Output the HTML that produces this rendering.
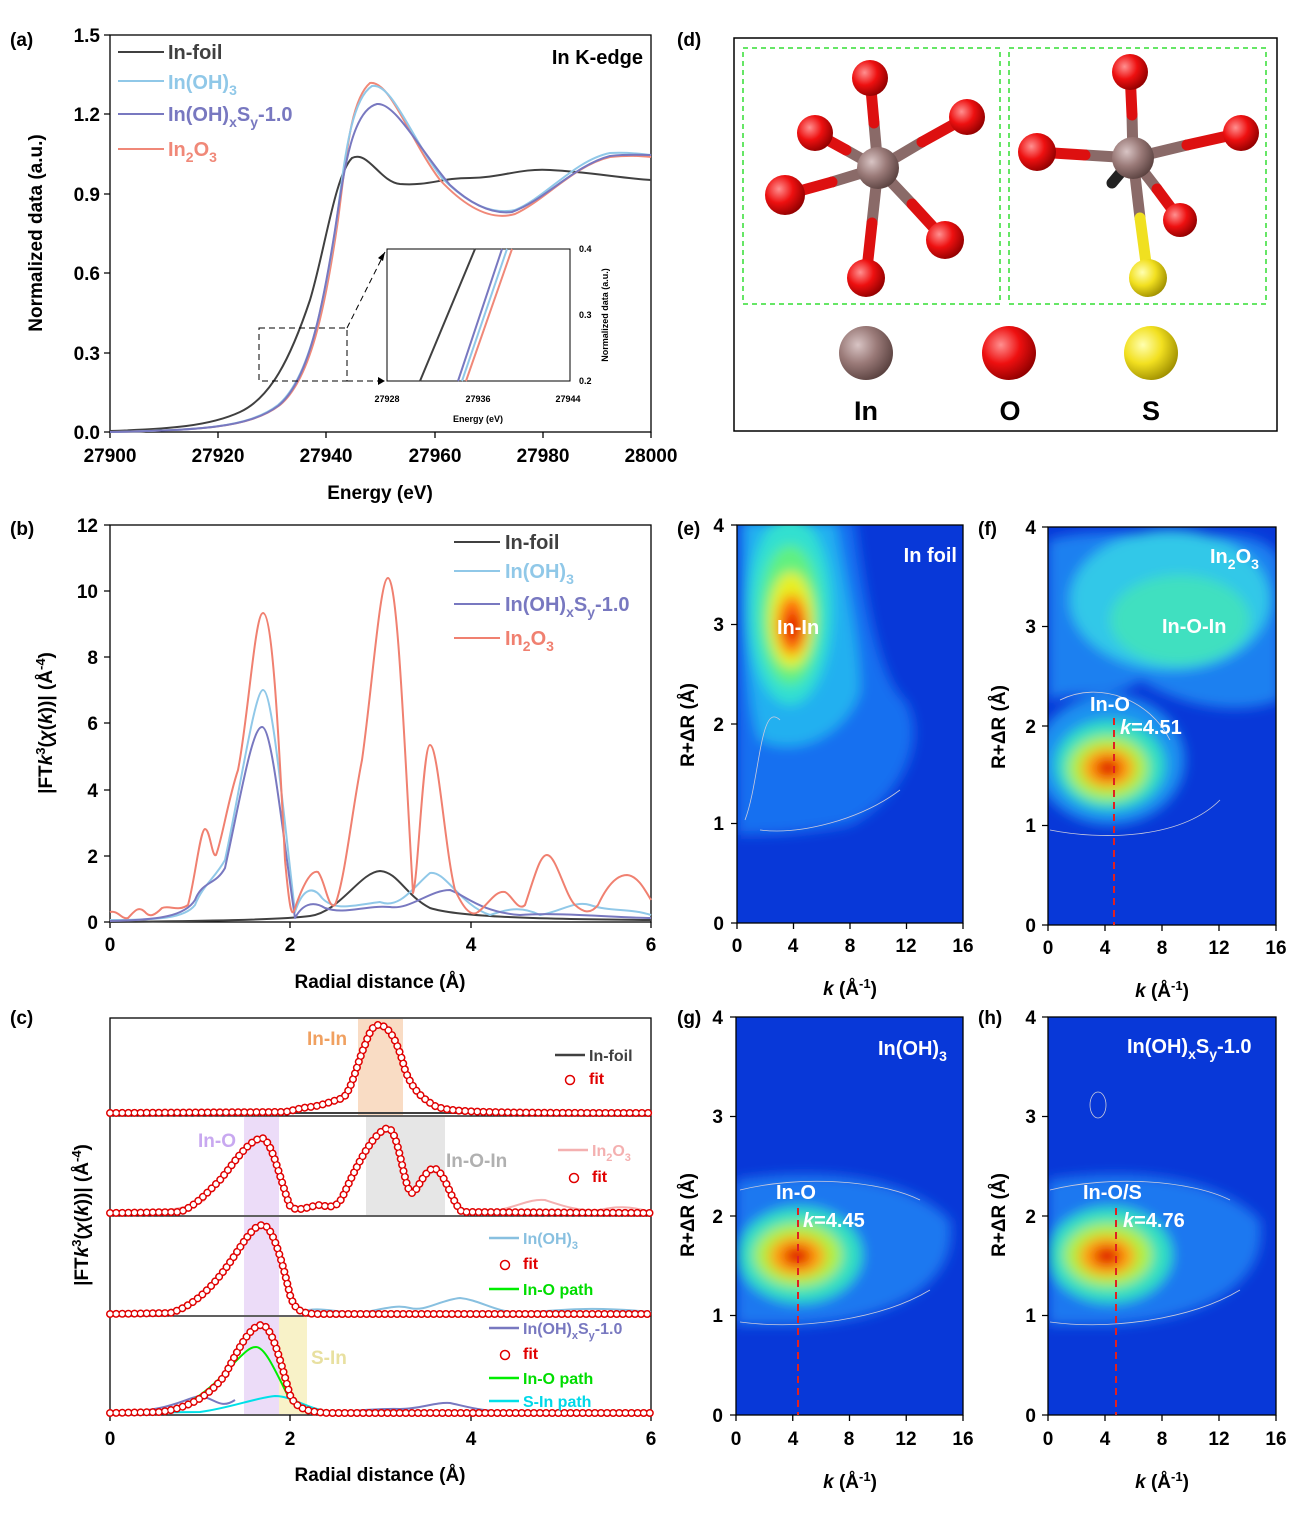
<!DOCTYPE html>
<html><head><meta charset="utf-8"><style>
body{margin:0;background:#fff}
svg{display:block;font-family:"Liberation Sans",Arial,sans-serif}
.t{font-size:19px;fill:#000;font-weight:bold}
.b{font-weight:bold}
</style></head><body>
<svg width="1304" height="1516" viewBox="0 0 1304 1516" xmlns="http://www.w3.org/2000/svg">
<defs>
<radialGradient id="gIn" cx="35%" cy="35%" r="70%"><stop offset="0" stop-color="#d8c4c4"/><stop offset=".5" stop-color="#9a7a78"/><stop offset="1" stop-color="#5a4240"/></radialGradient>
<radialGradient id="gO" cx="35%" cy="35%" r="70%"><stop offset="0" stop-color="#ff9090"/><stop offset=".5" stop-color="#ee1010"/><stop offset="1" stop-color="#900000"/></radialGradient>
<radialGradient id="gS" cx="35%" cy="35%" r="70%"><stop offset="0" stop-color="#ffffb0"/><stop offset=".5" stop-color="#f2e020"/><stop offset="1" stop-color="#a09000"/></radialGradient>
<filter id="bl" x="-50%" y="-50%" width="200%" height="200%"><feGaussianBlur stdDeviation="6"/></filter>
<clipPath id="ce"><rect x="737" y="525" width="226" height="398"/></clipPath>
<clipPath id="cf"><rect x="1048" y="527" width="228" height="398"/></clipPath>
<clipPath id="cg"><rect x="736" y="1017" width="227" height="398"/></clipPath>
<clipPath id="ch"><rect x="1048" y="1017" width="228" height="398"/></clipPath>
</defs>

<g class="t" font-size="19">
<text x="10" y="46">(a)</text><text x="10" y="535">(b)</text><text x="10" y="1024">(c)</text>
<text x="677" y="46">(d)</text><text x="677" y="535">(e)</text><text x="978" y="535">(f)</text>
<text x="677" y="1024">(g)</text><text x="978" y="1024">(h)</text>
</g>

<!-- ===== (a) ===== -->
<rect x="110" y="35" width="541" height="397" fill="none" stroke="#000" stroke-width="1.3"/>
<g stroke="#000" stroke-width="1.3">
<path d="M110 432v6M218 432v6M326 432v6M435 432v6M543 432v6M651 432v6"/>
<path d="M110 432h-6M110 353h-6M110 273h-6M110 194h-6M110 114h-6M110 35h-6"/>
</g>
<g class="t" text-anchor="middle"><text x="110" y="462">27900</text><text x="218" y="462">27920</text><text x="326" y="462">27940</text><text x="435" y="462">27960</text><text x="543" y="462">27980</text><text x="651" y="462">28000</text></g>
<g class="t" text-anchor="end"><text x="100" y="439">0.0</text><text x="100" y="360">0.3</text><text x="100" y="280">0.6</text><text x="100" y="201">0.9</text><text x="100" y="121">1.2</text><text x="100" y="42">1.5</text></g>
<text class="t" x="380" y="499" text-anchor="middle" font-size="20">Energy (eV)</text>
<text class="t" transform="translate(42,233) rotate(-90)" text-anchor="middle" font-size="20">Normalized data (a.u.)</text>
<g fill="none" stroke-width="2">
<path stroke="#404040" d="M110 431 C170 429 210 426 240 412 C270 398 290 360 310 300 C325 250 335 175 352 158 C368 150 380 182 400 184 C430 186 440 178 470 178 C500 178 520 168 550 170 C590 172 620 178 651 180"/>
<path stroke="#f08878" d="M110 432 C200 430 250 428 280 405 C310 380 325 310 338 220 C346 160 350 100 370 83 C390 80 410 140 440 180 C470 212 495 220 515 214 C545 200 575 165 610 157 C630 155 640 156 651 157"/>
<path stroke="#90c8e8" d="M110 432 C200 430 248 428 278 405 C308 380 323 310 336 225 C344 165 350 100 372 86 C392 82 412 140 442 178 C472 208 495 214 515 210 C545 198 575 160 610 153 C630 152 640 154 651 155"/>
<path stroke="#7878c0" d="M110 432 C200 430 248 428 278 406 C308 382 322 312 335 230 C344 170 352 110 377 104 C395 102 420 150 450 185 C475 208 495 214 512 212 C545 200 575 165 610 156 C630 154 640 155 651 155"/>
</g>
<g stroke-width="2"><path stroke="#404040" d="M118 52h46"/><path stroke="#90c8e8" d="M118 81h46"/><path stroke="#7878c0" d="M118 114h46"/><path stroke="#f08878" d="M118 149h46"/></g>
<g font-size="20" font-weight="bold"><text x="168" y="59" fill="#404040">In-foil</text><text x="168" y="89" fill="#90c8e8">In(OH)<tspan font-size="14" dy="6">3</tspan></text>
<text x="168" y="121" fill="#7878c0">In(OH)<tspan font-size="14" dy="6">x</tspan><tspan dy="-6">S</tspan><tspan font-size="14" dy="6">y</tspan><tspan dy="-6">-1.0</tspan></text>
<text x="168" y="156" fill="#f08878">In<tspan font-size="14" dy="6">2</tspan><tspan dy="-6">O</tspan><tspan font-size="14" dy="6">3</tspan></text>
<text x="643" y="64" text-anchor="end" fill="#000">In K-edge</text></g>
<rect x="259" y="328" width="88" height="53" fill="none" stroke="#000" stroke-dasharray="6,4"/>
<path d="M347 328 L385 252 M347 381 L385 381" stroke="#000" stroke-dasharray="6,4" fill="none"/>
<path d="M378 258l7-6-2 9zM378 377l7 4-7 4z" fill="#000"/>
<rect x="387" y="249" width="183" height="132" fill="#fff" stroke="#000"/>
<g fill="none" stroke-width="2">
<path stroke="#404040" d="M420 381 L475 249"/>
<path stroke="#7878c0" d="M458 381 L502 249"/>
<path stroke="#90c8e8" d="M462 381 L507 249"/>
<path stroke="#f08878" d="M466 381 L512 249"/>
</g>
<g font-size="9" font-weight="bold" fill="#000"><text x="387" y="402" text-anchor="middle">27928</text><text x="478" y="402" text-anchor="middle">27936</text><text x="568" y="402" text-anchor="middle">27944</text>
<text x="579" y="252">0.4</text><text x="579" y="318">0.3</text><text x="579" y="384">0.2</text>
<text x="478" y="422" text-anchor="middle">Energy (eV)</text>
<text transform="translate(608,315) rotate(-90)" text-anchor="middle">Normalized data (a.u.)</text></g>

<!-- ===== (b) ===== -->
<rect x="110" y="525" width="541" height="397" fill="none" stroke="#000" stroke-width="1.3"/>
<g stroke="#000" stroke-width="1.3"><path d="M110 922v6M290 922v6M471 922v6M651 922v6M110 922h-6M110 856h-6M110 790h-6M110 723h-6M110 657h-6M110 591h-6M110 525h-6"/></g>
<g class="t" text-anchor="middle"><text x="110" y="951">0</text><text x="290" y="951">2</text><text x="471" y="951">4</text><text x="651" y="951">6</text></g>
<g class="t" text-anchor="end"><text x="98" y="929">0</text><text x="98" y="863">2</text><text x="98" y="797">4</text><text x="98" y="730">6</text><text x="98" y="664">8</text><text x="98" y="598">10</text><text x="98" y="532">12</text></g>
<text class="t" x="380" y="988" text-anchor="middle" font-size="20">Radial distance (Å)</text>
<text class="t" transform="translate(52,723) rotate(-90)" text-anchor="middle" font-size="20">|FT<tspan font-style="italic">k</tspan><tspan font-size="13" dy="-7">3</tspan><tspan dy="7">(</tspan><tspan font-style="italic">χ</tspan>(<tspan font-style="italic">k</tspan>))| (Å<tspan font-size="13" dy="-7">-4</tspan><tspan dy="7">)</tspan></text>
<g fill="none" stroke-width="2" stroke-linejoin="round">
<path stroke="#404040" d="M110 922 C200 921 280 920 310 916 C340 912 360 872 380 871 C398 872 405 895 430 908 C455 916 520 919 651 920"/>
<path stroke="#90c8e8" d="M110 920 C160 920 185 918 195 905 C203 885 215 878 225 860 C240 790 255 690 263 690 C272 690 282 800 295 912 C302 890 312 884 322 898 C335 912 355 905 380 902 C400 910 415 885 430 873 C445 870 460 905 490 915 C505 910 520 905 540 915 C560 912 575 900 590 905 C610 912 630 908 651 915"/>
<path stroke="#7878c0" d="M110 921 C160 920 185 916 195 900 C203 880 215 886 225 868 C240 800 252 727 262 727 C272 727 282 830 295 918 C302 905 312 900 325 908 C345 915 365 905 390 907 C410 910 430 890 450 890 C465 895 480 912 520 915 C560 912 620 918 651 918"/>
<path stroke="#f08070" d="M110 912 C118 910 122 920 128 918 C134 912 138 905 145 912 C150 918 155 915 162 908 C170 905 178 912 188 905 C195 880 200 830 205 829 C210 829 212 858 216 855 C222 840 228 800 238 770 C248 720 255 613 263 613 C272 613 278 720 285 860 C290 915 292 920 296 905 C305 880 312 870 318 872 C325 880 328 910 335 905 C345 880 352 810 362 760 C372 690 380 578 388 578 C398 578 405 760 413 893 C418 880 423 745 430 745 C438 745 445 850 455 890 C462 905 470 918 478 912 C488 905 495 890 505 892 C512 895 518 912 525 905 C535 875 540 855 547 855 C556 855 565 895 575 905 C583 912 590 915 598 905 C605 890 615 875 627 875 C638 876 645 890 651 900"/>
</g>
<g stroke-width="2"><path stroke="#404040" d="M454 542h46"/><path stroke="#90c8e8" d="M454 571h46"/><path stroke="#7878c0" d="M454 604h46"/><path stroke="#f08070" d="M454 638h46"/></g>
<g font-size="20" font-weight="bold"><text x="505" y="549" fill="#404040">In-foil</text><text x="505" y="578" fill="#90c8e8">In(OH)<tspan font-size="14" dy="6">3</tspan></text>
<text x="505" y="611" fill="#7878c0">In(OH)<tspan font-size="14" dy="6">x</tspan><tspan dy="-6">S</tspan><tspan font-size="14" dy="6">y</tspan><tspan dy="-6">-1.0</tspan></text>
<text x="505" y="645" fill="#f08070">In<tspan font-size="14" dy="6">2</tspan><tspan dy="-6">O</tspan><tspan font-size="14" dy="6">3</tspan></text></g>

<!-- ===== (c) ===== -->
<rect x="358" y="1019" width="45" height="96" fill="#f9dcc4"/>
<rect x="244" y="1117" width="35" height="98" fill="#ecdcf8"/>
<rect x="366" y="1117" width="79" height="98" fill="#e6e6e6"/>
<rect x="244" y="1217" width="35" height="98" fill="#ecdcf8"/>
<rect x="244" y="1317" width="35" height="97" fill="#ecdcf8"/>
<rect x="279" y="1317" width="28" height="97" fill="#f8f2c8"/>
<rect x="110" y="1018" width="541" height="397" fill="none" stroke="#000" stroke-width="1.3"/>
<path d="M110 1116h541M110 1216h541M110 1316h541" stroke="#000" stroke-width="1.3"/>
<g stroke="#000" stroke-width="1.3"><path d="M110 1415v6M290 1415v6M471 1415v6M651 1415v6"/></g>
<g class="t" text-anchor="middle"><text x="110" y="1445">0</text><text x="290" y="1445">2</text><text x="471" y="1445">4</text><text x="651" y="1445">6</text></g>
<text class="t" x="380" y="1481" text-anchor="middle" font-size="20">Radial distance (Å)</text>
<text class="t" transform="translate(88,1215) rotate(-90)" text-anchor="middle" font-size="20">|FT<tspan font-style="italic">k</tspan><tspan font-size="13" dy="-7">3</tspan><tspan dy="7">(</tspan><tspan font-style="italic">χ</tspan>(<tspan font-style="italic">k</tspan>))| (Å<tspan font-size="13" dy="-7">-4</tspan><tspan dy="7">)</tspan></text>
<g fill="none" stroke-width="2">
<path stroke="#404040" d="M110 1113 L651 1113"/>
<path stroke="#f4b0b0" d="M110 1213 C180 1212 195 1205 205 1200 M470 1213 C510 1213 525 1198 545 1200 C560 1205 580 1212 600 1210 C615 1206 630 1206 651 1212"/>
<path stroke="#88c0e0" d="M300 1312 C320 1306 330 1312 360 1313 C380 1310 395 1304 410 1308 C425 1312 440 1300 460 1298 C480 1300 495 1312 520 1313 C560 1310 590 1306 651 1312"/>
<path stroke="#7878c0" d="M110 1413 C170 1412 185 1398 200 1396 C215 1398 220 1410 235 1400 M310 1412 C350 1413 370 1408 400 1409 C420 1409 435 1402 450 1403 C465 1406 480 1412 520 1412 C560 1411 600 1413 651 1413"/>
<path stroke="#00ee00" d="M110 1314 L175 1313 C200 1305 220 1280 240 1250 C252 1230 258 1224 263 1224 C270 1224 280 1250 290 1290 C295 1308 300 1313 320 1314 L651 1314"/>
<path stroke="#00ee00" d="M110 1413 L160 1412 C190 1408 215 1385 235 1362 C245 1352 250 1347 256 1347 C265 1347 275 1370 290 1400 C298 1410 310 1413 330 1413 L651 1413"/>
<path stroke="#00e0e8" d="M110 1413 L200 1412 C230 1408 255 1398 275 1396 C292 1396 305 1408 330 1412 L651 1413"/>
</g>
<g fill="none" stroke-linecap="round" stroke="#e00000" stroke-width="8" stroke-dasharray="0.1 6">
<path d="M110 1113 L285 1112 C295 1110 300 1108 310 1107 C320 1106 330 1102 343 1098 C352 1090 358 1060 365 1045 C370 1030 374 1025 378 1025 C386 1025 395 1032 405 1070 C412 1088 420 1097 435 1106 C450 1112 470 1113 651 1113"/>
<path d="M110 1213 L180 1212 C195 1206 205 1195 220 1180 C235 1162 248 1140 262 1138 C272 1140 280 1180 290 1206 C296 1212 305 1208 318 1205 C328 1206 335 1210 342 1198 C355 1170 372 1132 388 1128 C398 1130 403 1180 410 1192 C416 1198 420 1175 433 1168 C445 1170 450 1200 462 1212 L651 1213"/>
<path d="M110 1314 L170 1313 C195 1306 215 1285 235 1255 C248 1235 255 1225 263 1225 C272 1225 282 1260 290 1295 C295 1310 300 1314 320 1314 L651 1314"/>
<path d="M110 1413 L160 1412 C190 1408 210 1395 225 1375 C238 1350 250 1325 262 1325 C272 1326 280 1360 290 1395 C296 1408 305 1412 330 1413 L651 1413"/>
</g>
<g fill="none" stroke-linecap="round" stroke="#fff" stroke-width="5" stroke-dasharray="0.1 6">
<path d="M110 1113 L285 1112 C295 1110 300 1108 310 1107 C320 1106 330 1102 343 1098 C352 1090 358 1060 365 1045 C370 1030 374 1025 378 1025 C386 1025 395 1032 405 1070 C412 1088 420 1097 435 1106 C450 1112 470 1113 651 1113"/>
<path d="M110 1213 L180 1212 C195 1206 205 1195 220 1180 C235 1162 248 1140 262 1138 C272 1140 280 1180 290 1206 C296 1212 305 1208 318 1205 C328 1206 335 1210 342 1198 C355 1170 372 1132 388 1128 C398 1130 403 1180 410 1192 C416 1198 420 1175 433 1168 C445 1170 450 1200 462 1212 L651 1213"/>
<path d="M110 1314 L170 1313 C195 1306 215 1285 235 1255 C248 1235 255 1225 263 1225 C272 1225 282 1260 290 1295 C295 1310 300 1314 320 1314 L651 1314"/>
<path d="M110 1413 L160 1412 C190 1408 210 1395 225 1375 C238 1350 250 1325 262 1325 C272 1326 280 1360 290 1395 C296 1408 305 1412 330 1413 L651 1413"/>
</g>
<g font-size="19" font-weight="bold">
<text x="307" y="1045" fill="#f0a060">In-In</text>
<text x="198" y="1147" fill="#c8a8f0">In-O</text>
<text x="446" y="1167" fill="#b0b0b0">In-O-In</text>
<text x="311" y="1364" fill="#e8e0a0">S-In</text>
</g>
<g font-size="16" font-weight="bold">
<path d="M555 1055h30" stroke="#404040" stroke-width="2.5"/><text x="589" y="1061" fill="#404040">In-foil</text>
<circle cx="570" cy="1080" r="4.5" fill="none" stroke="#e00000" stroke-width="1.5"/><text x="589" y="1084" fill="#e00000">fit</text>
<path d="M558 1150h30" stroke="#f4b0b0" stroke-width="2.5"/><text x="592" y="1156" fill="#f4b0b0">In<tspan font-size="11" dy="5">2</tspan><tspan dy="-5">O</tspan><tspan font-size="11" dy="5">3</tspan></text>
<circle cx="574" cy="1178" r="4.5" fill="none" stroke="#e00000" stroke-width="1.5"/><text x="592" y="1182" fill="#e00000">fit</text>
<path d="M489 1238h30" stroke="#88c0e0" stroke-width="2.5"/><text x="523" y="1244" fill="#88c0e0">In(OH)<tspan font-size="11" dy="5">3</tspan></text>
<circle cx="505" cy="1265" r="4.5" fill="none" stroke="#e00000" stroke-width="1.5"/><text x="523" y="1269" fill="#e00000">fit</text>
<path d="M489 1289h30" stroke="#00ee00" stroke-width="2.5"/><text x="523" y="1295" fill="#00dd00">In-O path</text>
<path d="M489 1328h30" stroke="#7878c0" stroke-width="2.5"/><text x="523" y="1334" fill="#7878c0">In(OH)<tspan font-size="11" dy="5">x</tspan><tspan dy="-5">S</tspan><tspan font-size="11" dy="5">y</tspan><tspan dy="-5">-1.0</tspan></text>
<circle cx="505" cy="1355" r="4.5" fill="none" stroke="#e00000" stroke-width="1.5"/><text x="523" y="1359" fill="#e00000">fit</text>
<path d="M489 1378h30" stroke="#00ee00" stroke-width="2.5"/><text x="523" y="1384" fill="#00dd00">In-O path</text>
<path d="M489 1401h30" stroke="#00e0e8" stroke-width="2.5"/><text x="523" y="1407" fill="#00d8e8">S-In path</text>
</g>

<!-- ===== (d) ===== -->
<rect x="734" y="38" width="543" height="393" fill="#fff" stroke="#000" stroke-width="1.5"/>
<rect x="743" y="48" width="257" height="256" fill="none" stroke="#33dd33" stroke-width="1.5" stroke-dasharray="5,4"/>
<rect x="1009" y="48" width="257" height="256" fill="none" stroke="#33dd33" stroke-width="1.5" stroke-dasharray="5,4"/>
<g stroke-width="11" stroke-linecap="round">
<g stroke="#8a6a68"><path d="M878 168 L874 123M878 168 L846 150M878 168 L922 142M878 168 L832 182M878 168 L912 204M878 168 L872 223"/></g>
<g stroke="#dd1010"><path d="M874 123 L870 78M846 150 L815 133M922 142 L967 117M832 182 L785 195M912 204 L945 240M872 223 L866 278"/></g>
<g stroke="#8a6a68"><path d="M1133 158 L1132 115M1133 158 L1085 155M1133 158 L1187 145M1133 158 L1157 189M1133 158 L1140 218"/></g>
<g stroke="#dd1010"><path d="M1132 115 L1130 72M1085 155 L1037 152M1187 145 L1241 133M1157 189 L1180 220"/></g>
<path stroke="#f0e020" d="M1140 218 L1148 278"/>
<path stroke="#222" d="M1133 158 L1112 183"/>
</g>
<g>
<circle cx="878" cy="168" r="21" fill="url(#gIn)"/><circle cx="1133" cy="158" r="21" fill="url(#gIn)"/>
<circle cx="870" cy="78" r="18" fill="url(#gO)"/><circle cx="815" cy="133" r="18" fill="url(#gO)"/><circle cx="967" cy="117" r="18" fill="url(#gO)"/><circle cx="785" cy="195" r="20" fill="url(#gO)"/><circle cx="945" cy="240" r="19" fill="url(#gO)"/><circle cx="866" cy="278" r="19" fill="url(#gO)"/>
<circle cx="1130" cy="72" r="18" fill="url(#gO)"/><circle cx="1037" cy="152" r="19" fill="url(#gO)"/><circle cx="1241" cy="133" r="18" fill="url(#gO)"/><circle cx="1180" cy="220" r="17" fill="url(#gO)"/>
<circle cx="1148" cy="278" r="19" fill="url(#gS)"/>
<circle cx="866" cy="353" r="27" fill="url(#gIn)"/><circle cx="1009" cy="353" r="27" fill="url(#gO)"/><circle cx="1151" cy="353" r="27" fill="url(#gS)"/>
</g>
<g class="t" font-size="27" text-anchor="middle"><text x="866" y="420" font-size="27">In</text><text x="1010" y="420" font-size="27">O</text><text x="1151" y="420" font-size="27">S</text></g>

<!-- ===== wavelet plots ===== -->
<g clip-path="url(#ce)">
<rect x="737" y="525" width="226" height="398" fill="#0838d8"/>
<g filter="url(#bl)">
<path d="M737 520 L855 520 C865 600 880 680 905 700 C930 740 900 800 850 825 C800 835 760 835 737 835 Z" fill="#1870f0"/>
<path d="M745 520 L835 520 C845 580 860 640 860 690 C850 730 800 760 760 740 C745 700 745 600 745 520Z" fill="#20b0f0"/>
<ellipse cx="790" cy="610" rx="42" ry="95" fill="#30e0d0"/>
<ellipse cx="790" cy="615" rx="30" ry="70" fill="#60f080"/>
<ellipse cx="791" cy="620" rx="22" ry="48" fill="#e8f020"/>
<ellipse cx="792" cy="625" rx="15" ry="30" fill="#ff7010"/>
<ellipse cx="793" cy="627" rx="8" ry="15" fill="#e00000"/>
</g>
<path d="M760 830 C800 835 860 820 900 790 M745 820 C760 780 760 700 780 720" stroke="#ccd" stroke-width="0.8" fill="none"/>
</g>
<rect x="737" y="525" width="226" height="398" fill="none" stroke="#000" stroke-width="1.3"/>

<g clip-path="url(#cf)">
<rect x="1048" y="527" width="228" height="398" fill="#0838d8"/>
<g filter="url(#bl)">
<path d="M1048 540 C1080 530 1140 530 1180 540 C1230 530 1270 535 1280 560 L1280 700 C1230 720 1170 700 1140 680 C1120 700 1080 690 1048 700Z" fill="#1a80f0"/>
<ellipse cx="1170" cy="600" rx="100" ry="70" fill="#30c8e8"/>
<ellipse cx="1180" cy="620" rx="70" ry="45" fill="#40e0c0"/>
<ellipse cx="1110" cy="760" rx="75" ry="65" fill="#1a90f0"/>
<ellipse cx="1110" cy="765" rx="55" ry="45" fill="#30e0c0"/>
<ellipse cx="1108" cy="768" rx="40" ry="32" fill="#b0f040"/>
<ellipse cx="1108" cy="768" rx="26" ry="20" fill="#ffa010"/>
<ellipse cx="1108" cy="768" rx="13" ry="10" fill="#e00000"/>
</g>
<path d="M1050 830 C1100 840 1180 840 1220 800 M1060 700 C1100 680 1150 700 1170 740" stroke="#ccd" stroke-width="0.8" fill="none"/>
</g>
<rect x="1048" y="527" width="228" height="398" fill="none" stroke="#000" stroke-width="1.3"/>

<g clip-path="url(#cg)">
<rect x="736" y="1017" width="227" height="398" fill="#0838d8"/>
<g filter="url(#bl)">
<path d="M736 1180 C800 1170 900 1170 950 1220 C960 1280 900 1320 800 1325 L736 1325Z" fill="#1a78f0"/>
<ellipse cx="800" cy="1255" rx="62" ry="48" fill="#30e0c0"/>
<ellipse cx="798" cy="1255" rx="44" ry="32" fill="#b0f040"/>
<ellipse cx="797" cy="1256" rx="28" ry="20" fill="#ffa010"/>
<ellipse cx="797" cy="1256" rx="14" ry="10" fill="#e00000"/>
</g>
<path d="M740 1322 C800 1330 880 1320 930 1290 M740 1190 C800 1175 880 1180 920 1200" stroke="#ccd" stroke-width="0.8" fill="none"/>
</g>
<rect x="736" y="1017" width="227" height="398" fill="none" stroke="#000" stroke-width="1.3"/>

<g clip-path="url(#ch)">
<rect x="1048" y="1017" width="228" height="398" fill="#0838d8"/>
<g filter="url(#bl)">
<path d="M1048 1180 C1110 1170 1210 1170 1260 1220 C1270 1280 1210 1320 1110 1325 L1048 1325Z" fill="#1a78f0"/>
<ellipse cx="1110" cy="1255" rx="62" ry="48" fill="#30e0c0"/>
<ellipse cx="1108" cy="1255" rx="44" ry="32" fill="#b0f040"/>
<ellipse cx="1107" cy="1256" rx="28" ry="20" fill="#ffa010"/>
<ellipse cx="1107" cy="1256" rx="14" ry="10" fill="#e00000"/>
</g>
<ellipse cx="1098" cy="1105" rx="8" ry="13" fill="none" stroke="#ccd" stroke-width="0.8"/>
<path d="M1050 1322 C1110 1330 1190 1320 1240 1290 M1050 1190 C1110 1175 1190 1180 1230 1200" stroke="#ccd" stroke-width="0.8" fill="none"/>
</g>
<rect x="1048" y="1017" width="228" height="398" fill="none" stroke="#000" stroke-width="1.3"/>

<g stroke="#e02020" stroke-width="2" stroke-dasharray="7,5">
<path d="M1114 718 V925"/><path d="M798 1208 V1415"/><path d="M1116 1208 V1415"/>
</g>
<g font-size="20" font-weight="bold" style="fill:#fff">
<text x="957" y="562" text-anchor="end" style="fill:#fff">In foil</text>
<text x="777" y="634" style="fill:#fff">In-In</text>
<text x="1210" y="563" style="fill:#fff">In<tspan font-size="14" dy="6">2</tspan><tspan dy="-6">O</tspan><tspan font-size="14" dy="6">3</tspan></text>
<text x="1162" y="633" style="fill:#fff">In-O-In</text>
<text x="1090" y="711" style="fill:#fff">In-O</text>
<text x="1120" y="734" style="fill:#fff"><tspan font-style="italic">k</tspan>=4.51</text>
<text x="878" y="1055" style="fill:#fff">In(OH)<tspan font-size="14" dy="6">3</tspan></text>
<text x="776" y="1199" style="fill:#fff">In-O</text>
<text x="803" y="1227" style="fill:#fff"><tspan font-style="italic">k</tspan>=4.45</text>
<text x="1127" y="1053" style="fill:#fff">In(OH)<tspan font-size="14" dy="6">x</tspan><tspan dy="-6">S</tspan><tspan font-size="14" dy="6">y</tspan><tspan dy="-6">-1.0</tspan></text>
<text x="1083" y="1199" style="fill:#fff">In-O/S</text>
<text x="1123" y="1227" style="fill:#fff"><tspan font-style="italic">k</tspan>=4.76</text>
</g>
<g stroke="#000" stroke-width="1.3">
<path d="M737 923v6M793.5 923v6M850 923v6M906.5 923v6M963 923v6M737 923h-6M737 823.5h-6M737 724h-6M737 624.5h-6M737 525h-6"/>
<path d="M1048 925v6M1105 925v6M1162 925v6M1219 925v6M1276 925v6M1048 925h-6M1048 825.5h-6M1048 726h-6M1048 626.5h-6M1048 527h-6"/>
<path d="M736 1415v6M792.75 1415v6M849.5 1415v6M906.25 1415v6M963 1415v6M736 1415h-6M736 1315.5h-6M736 1216h-6M736 1116.5h-6M736 1017h-6"/>
<path d="M1048 1415v6M1105 1415v6M1162 1415v6M1219 1415v6M1276 1415v6M1048 1415h-6M1048 1315.5h-6M1048 1216h-6M1048 1116.5h-6M1048 1017h-6"/>
</g>
<g class="t" text-anchor="middle">
<text x="737" y="952">0</text><text x="793" y="952">4</text><text x="850" y="952">8</text><text x="906" y="952">12</text><text x="963" y="952">16</text>
<text x="1048" y="954">0</text><text x="1105" y="954">4</text><text x="1162" y="954">8</text><text x="1219" y="954">12</text><text x="1276" y="954">16</text>
<text x="736" y="1445">0</text><text x="793" y="1445">4</text><text x="849" y="1445">8</text><text x="906" y="1445">12</text><text x="963" y="1445">16</text>
<text x="1048" y="1445">0</text><text x="1105" y="1445">4</text><text x="1162" y="1445">8</text><text x="1219" y="1445">12</text><text x="1276" y="1445">16</text>
</g>
<g class="t" text-anchor="end">
<text x="724" y="930">0</text><text x="724" y="830">1</text><text x="724" y="731">2</text><text x="724" y="631">3</text><text x="724" y="532">4</text>
<text x="1036" y="932">0</text><text x="1036" y="832">1</text><text x="1036" y="733">2</text><text x="1036" y="633">3</text><text x="1036" y="534">4</text>
<text x="723" y="1422">0</text><text x="723" y="1322">1</text><text x="723" y="1223">2</text><text x="723" y="1123">3</text><text x="723" y="1024">4</text>
<text x="1036" y="1422">0</text><text x="1036" y="1322">1</text><text x="1036" y="1223">2</text><text x="1036" y="1123">3</text><text x="1036" y="1024">4</text>
</g>
<g class="t" font-size="20" text-anchor="middle">
<text transform="translate(694,725) rotate(-90)">R+ΔR (Å)</text>
<text transform="translate(1005,727) rotate(-90)">R+ΔR (Å)</text>
<text transform="translate(694,1215) rotate(-90)">R+ΔR (Å)</text>
<text transform="translate(1005,1215) rotate(-90)">R+ΔR (Å)</text>
<text x="850" y="995"><tspan font-style="italic">k</tspan> (Å<tspan font-size="13" dy="-7">-1</tspan><tspan dy="7">)</tspan></text>
<text x="1162" y="997"><tspan font-style="italic">k</tspan> (Å<tspan font-size="13" dy="-7">-1</tspan><tspan dy="7">)</tspan></text>
<text x="850" y="1488"><tspan font-style="italic">k</tspan> (Å<tspan font-size="13" dy="-7">-1</tspan><tspan dy="7">)</tspan></text>
<text x="1162" y="1488"><tspan font-style="italic">k</tspan> (Å<tspan font-size="13" dy="-7">-1</tspan><tspan dy="7">)</tspan></text>
</g>
</svg>
</body></html>
